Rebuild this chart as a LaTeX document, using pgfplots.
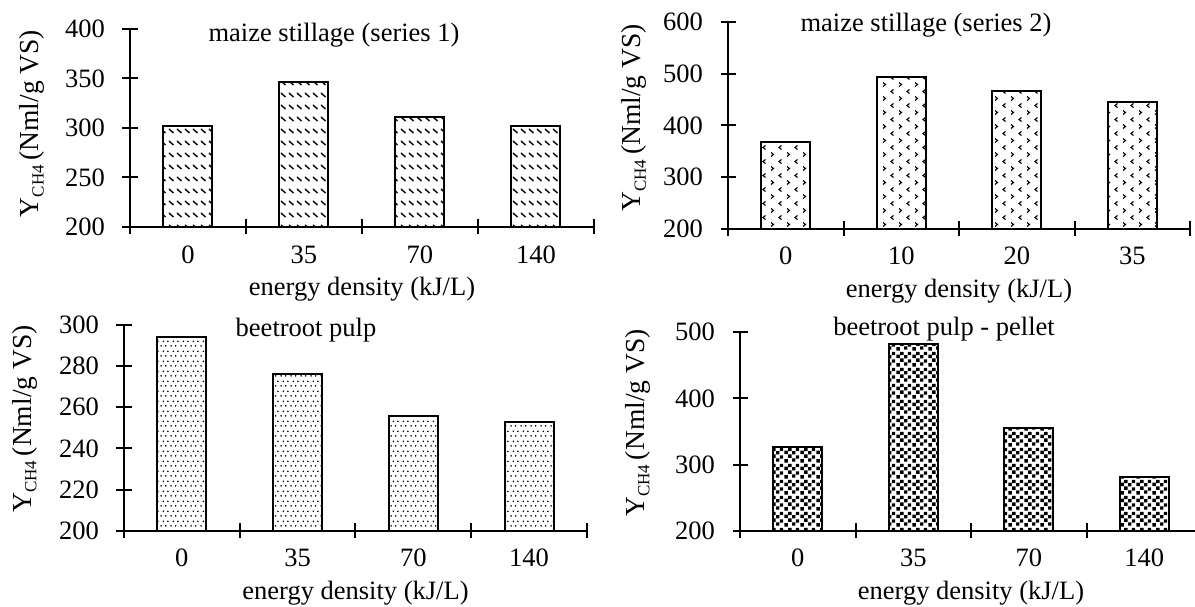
\documentclass[border=0pt]{standalone}
\usepackage{fontspec}
\setmainfont{Liberation Serif}
\usepackage{pgfplots}
\pgfplotsset{compat=1.18}
\usetikzlibrary{patterns}

\pgfdeclarepatternformonly{dashdiag}{\pgfqpoint{-1pt}{-1pt}}{\pgfqpoint{9pt}{13pt}}{\pgfqpoint{8pt}{12pt}}{%
  \pgfsetlinewidth{1.4pt}%
  \pgfpathmoveto{\pgfqpoint{1pt}{9pt}}\pgfpathlineto{\pgfqpoint{5.5pt}{5pt}}%
  \pgfusepath{stroke}}
\pgfdeclarepatternformonly{chevrons}{\pgfqpoint{-1pt}{-1pt}}{\pgfqpoint{17pt}{15pt}}{\pgfqpoint{16pt}{14pt}}{%
  \pgfsetlinewidth{1.1pt}%
  \pgfpathmoveto{\pgfqpoint{13.5pt}{12.5pt}}\pgfpathlineto{\pgfqpoint{11pt}{10.5pt}}\pgfpathlineto{\pgfqpoint{13.5pt}{8.5pt}}%
  \pgfpathmoveto{\pgfqpoint{3pt}{5.5pt}}\pgfpathlineto{\pgfqpoint{5.5pt}{3.5pt}}\pgfpathlineto{\pgfqpoint{3pt}{1.5pt}}%
  \pgfusepath{stroke}}
\pgfdeclarepatternformonly{finedots}{\pgfqpoint{0pt}{0pt}}{\pgfqpoint{10pt}{10pt}}{\pgfqpoint{10pt}{10pt}}{%
  \pgfpathcircle{\pgfqpoint{1.2pt}{1.2pt}}{0.95pt}%
  \pgfpathcircle{\pgfqpoint{6.2pt}{1.2pt}}{0.95pt}%
  \pgfpathcircle{\pgfqpoint{3.7pt}{6.2pt}}{0.95pt}%
  \pgfpathcircle{\pgfqpoint{8.7pt}{6.2pt}}{0.95pt}%
  \pgfusepath{fill}}
\pgfdeclarepatternformonly{confetti}{\pgfqpoint{0pt}{0pt}}{\pgfqpoint{16pt}{16pt}}{\pgfqpoint{16pt}{16pt}}{%
  \pgfpathrectangle{\pgfqpoint{0.5pt}{0.5pt}}{\pgfqpoint{3.5pt}{3.5pt}}%
  \pgfpathrectangle{\pgfqpoint{8.5pt}{1.5pt}}{\pgfqpoint{3.5pt}{3.5pt}}%
  \pgfpathrectangle{\pgfqpoint{4.5pt}{5.5pt}}{\pgfqpoint{3.5pt}{3.5pt}}%
  \pgfpathrectangle{\pgfqpoint{12.5pt}{4.5pt}}{\pgfqpoint{3.5pt}{3.5pt}}%
  \pgfpathrectangle{\pgfqpoint{0.5pt}{9.5pt}}{\pgfqpoint{3.5pt}{3.5pt}}%
  \pgfpathrectangle{\pgfqpoint{8.5pt}{9pt}}{\pgfqpoint{3.5pt}{3.5pt}}%
  \pgfpathrectangle{\pgfqpoint{4.5pt}{12.5pt}}{\pgfqpoint{3.5pt}{3.5pt}}%
  \pgfpathrectangle{\pgfqpoint{12.5pt}{12.5pt}}{\pgfqpoint{3.5pt}{3.5pt}}%
  \pgfusepath{fill}}

\pgfplotsset{
  panel/.style={
    scale only axis,
    axis x line*=bottom, axis y line*=left,
    axis line style={-, line width=2pt, black},
    tick style={line width=2pt, black},
    tick align=center, major tick length=15pt,
    xmin=-0.5, xmax=3.5,
    xtick={-0.5,0.5,1.5,2.5,3.5}, xticklabels={},
    extra x ticks={0,1,2,3},
    extra x tick style={major tick length=0pt, tick style={draw=none}},
    xticklabel style={yshift=-15pt},
    yticklabel style={xshift=-14pt},
    /pgf/number format/assume math mode=true,
    ticklabel style={font=\fontsize{26.5}{28}\selectfont},
    label style={font=\fontsize{26.5}{28}\selectfont},
    xlabel={energy density (kJ/L)},
    xlabel style={at={(axis description cs:0.5,0)}, anchor=center, yshift=-62pt},
    ylabel={Y\raisebox{-5pt}{\fontsize{17}{17}\selectfont CH4}\,(Nml/g VS)},
    ylabel style={font=\fontsize{27.5}{29}\selectfont},
    clip=true,
  },
  bars/.style={ybar, draw=black, line width=2pt, bar width=49pt, bar shift=0pt},
}

\pgfplotstableread{
x y
0 302
1 346
2 311
3 302
}\tabA
\pgfplotstableread{
x y
0 367
1 493
2 466
3 445
}\tabB
\pgfplotstableread{
x y
0 294
1 276
2 256
3 253
}\tabC
\pgfplotstableread{
x y
0 326
1 483
2 355
3 281
}\tabD

\begin{document}
\begin{tikzpicture}[x=1pt,y=1pt]
\useasboundingbox (0,0) rectangle (1195,606);

\begin{axis}[panel, at={(130pt,379pt)}, anchor=south west,
  width=464pt, height=198pt, ymin=200, ymax=400, ytick={200,250,...,400},
  extra x tick labels={0,35,70,140},
  ylabel style={at={(axis description cs:-0.211,0.523)}, anchor=center}]
  \addplot[bars, pattern=dashdiag] table[x=x,y=y] {\tabA};
\end{axis}

\begin{axis}[panel, at={(728pt,377.3pt)}, anchor=south west,
  width=462pt, height=206.7pt, ymin=200, ymax=600, ytick={200,300,...,600},
  extra x tick labels={0,10,20,35},
  ylabel style={at={(axis description cs:-0.203,0.536)}, anchor=center}]
  \addplot[bars, pattern=chevrons] table[x=x,y=y] {\tabB};
\end{axis}

\begin{axis}[panel, at={(124pt,75.3pt)}, anchor=south west,
  width=463pt, height=205.7pt, ymin=200, ymax=300, ytick={200,220,...,300},
  extra x tick labels={0,35,70,140},
  ylabel style={at={(axis description cs:-0.214,0.543)}, anchor=center}]
  \addplot[bars, pattern=finedots] table[x=x,y=y] {\tabC};
\end{axis}

\begin{axis}[panel, at={(740pt,75.3pt)}, anchor=south west,
  width=462pt, height=198.4pt, ymin=200, ymax=500, ytick={200,300,...,500},
  extra x tick labels={0,35,70,140},
  ylabel style={at={(axis description cs:-0.221,0.543)}, anchor=center}]
  \addplot[bars, pattern=confetti] table[x=x,y=y] {\tabD};
\end{axis}

\node[font=\fontsize{26.5}{28}\selectfont] at (334,571) {maize stillage (series 1)};
\node[font=\fontsize{26.5}{28}\selectfont] at (926,581) {maize stillage (series 2)};
\node[font=\fontsize{26.5}{28}\selectfont] at (306,276) {beetroot pulp};
\node[font=\fontsize{26.5}{28}\selectfont] at (944,277) {beetroot pulp - pellet};
\end{tikzpicture}
\end{document}
